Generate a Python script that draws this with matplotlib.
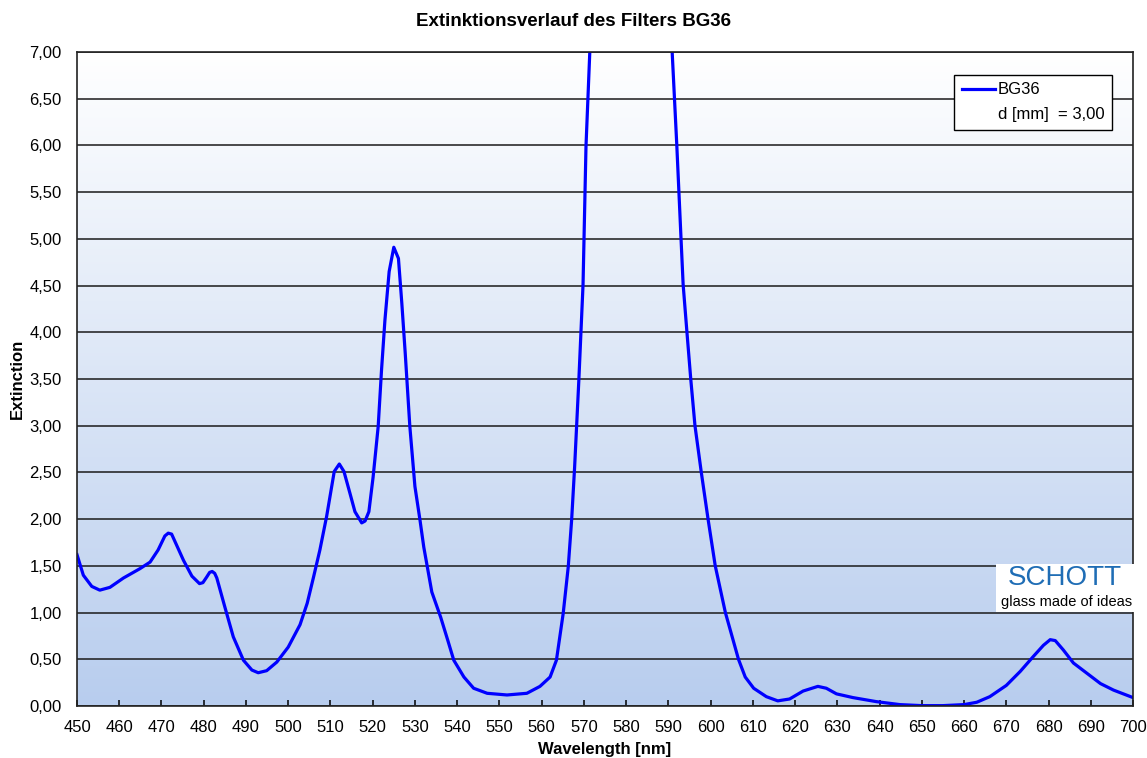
import numpy as np
import matplotlib
matplotlib.use("Agg")
import matplotlib.pyplot as plt
from matplotlib.lines import Line2D
from matplotlib.patches import Rectangle
from matplotlib.ticker import FuncFormatter, MultipleLocator

plt.rcParams["font.family"] = ["Liberation Sans", "DejaVu Sans"]

# Extinction curve of BG36 (d = 3 mm)
wavelength = [450, 451.5, 453.5, 455.4, 457.8, 461, 464.9, 467.3, 469.2, 470.8,
              471.6, 472.4, 473.2, 475.2, 477.2, 479.0, 479.8, 480.7, 481.4, 482.0,
              482.6, 483.1, 485.0, 487.0, 489.4, 491.4, 492.9, 494.9, 497.3, 500.0,
              502.8, 504.5, 506, 507.5, 509.1, 510.9, 512.1, 513.2, 514.6, 515.8,
              517.4, 518.2, 519.1, 520.1, 521.3, 522.1, 522.9, 523.9, 525.0, 526.1,
              526.9, 527.7, 528.8, 530.0, 531.2, 532.1, 534.0, 536.1, 537.8, 539.2,
              541.6, 543.9, 547.1, 551.8, 556.5, 559.6, 562, 563.5, 565.1, 566.3,
              567.1, 567.8, 568.8, 569.8, 570.5, 571.4, 572.5, 576, 581, 586,
              589.8, 590.9, 592.0, 593.0, 593.5, 594.4, 595.3, 596.3, 597.8, 599.4,
              601.1, 603.5, 605.3, 606.6, 608.2, 610.2, 613.2, 615.9, 618.7, 621.9,
              625.4, 627.4, 629.8, 633.7, 639.2, 644.8, 650, 655, 660, 663,
              666.1, 670, 673.3, 676.4, 678.8, 680.4, 681.6, 683.5, 685.9, 689.1,
              692.3, 695.4, 700]
extinction = [1.62, 1.40, 1.28, 1.24, 1.27, 1.37, 1.47, 1.54, 1.67, 1.82,
              1.85, 1.84, 1.76, 1.56, 1.39, 1.31, 1.32, 1.38, 1.43, 1.44,
              1.42, 1.37, 1.06, 0.74, 0.49, 0.385, 0.356, 0.378, 0.47, 0.63,
              0.87, 1.10, 1.38, 1.67, 2.03, 2.51, 2.59, 2.51, 2.28, 2.08,
              1.96, 1.98, 2.08, 2.45, 2.99, 3.60, 4.13, 4.65, 4.91, 4.79,
              4.31, 3.78, 2.99, 2.35, 1.99, 1.70, 1.22, 0.95, 0.70, 0.49,
              0.31, 0.19, 0.136, 0.118, 0.136, 0.21, 0.31, 0.49, 0.99, 1.49,
              1.99, 2.55, 3.48, 4.51, 5.99, 7.0, 8.0, 8.8, 9.0, 8.8,
              8.0, 7.0, 6.0, 5.0, 4.51, 4.0, 3.5, 3.0, 2.50, 2.0,
              1.50, 1.0, 0.71, 0.50, 0.31, 0.19, 0.10, 0.055, 0.075, 0.16,
              0.21, 0.19, 0.13, 0.09, 0.047, 0.015, 0.004, 0.004, 0.015, 0.04,
              0.10, 0.22, 0.37, 0.53, 0.65, 0.71, 0.70, 0.60, 0.46, 0.35,
              0.24, 0.17, 0.09]

x_min, x_max = 450, 700
y_min, y_max = 0, 7

fig = plt.figure(figsize=(11.47, 7.58), dpi=100)
ax = fig.add_axes([77 / 1147, 1 - 706 / 758, 1056 / 1147, 654 / 758])

# vertical gradient background: white at top, light blue at bottom
top = np.array([1.0, 1.0, 1.0])
bottom = np.array([184, 205, 238]) / 255
t = np.linspace(0, 1, 256)[:, None]
grad = (top * (1 - t) + bottom * t)[:, None, :]
ax.imshow(grad, extent=[x_min, x_max, y_min, y_max], aspect="auto",
          origin="upper", zorder=0, interpolation="bilinear")

ax.set_xlim(x_min, x_max)
ax.set_ylim(y_min, y_max)
ax.xaxis.set_major_locator(MultipleLocator(10))
ax.yaxis.set_major_locator(MultipleLocator(0.5))
ax.yaxis.set_major_formatter(FuncFormatter(lambda v, p: f"{v:.2f}".replace(".", ",")))
ax.grid(axis="y", color="#1a1a1a", linewidth=1.1, zorder=1)
ax.set_axisbelow(False)

ax.plot(wavelength, extinction, color="#0000ff", linewidth=2.3, zorder=3,
        label="BG36")

ax.tick_params(axis="x", direction="in", length=4, width=1.1, pad=10,
               labelsize=12, colors="black")
ax.tick_params(axis="y", length=0, pad=11, labelsize=12)
for s in ax.spines.values():
    s.set_linewidth(1.2)
    s.set_color("#222222")
    s.set_zorder(4)

ax.set_xlabel("Wavelength [nm]", fontsize=12, fontweight="bold", labelpad=5)
ax.set_ylabel("Extinction", fontsize=12, fontweight="bold")
ax.yaxis.set_label_coords(-52 / 1056, 0.5)
fig.text(0.5, 1 - 22 / 758, "Extinktionsverlauf des Filters BG36",
         ha="center", va="center", fontsize=13.5, fontweight="bold")

handles = [Line2D([], [], color="#0000ff", linewidth=2.3),
           Line2D([], [], color="none")]
leg = ax.legend(handles, ["BG36", "d [mm]  = 3,00"], loc="upper right",
                bbox_to_anchor=(0.980, 0.965), fontsize=12, frameon=True,
                fancybox=False, framealpha=1, edgecolor="black",
                handlelength=2.0, handletextpad=0.15, borderpad=0.45,
                labelspacing=0.6, borderaxespad=0)
leg.get_frame().set_linewidth(1.0)
leg.set_zorder(5)

# SCHOTT logo box
fig.add_artist(Rectangle((996 / 1147, 1 - 612 / 758), 140 / 1147, 48 / 758,
                         transform=fig.transFigure, facecolor="white",
                         edgecolor="none", zorder=6))
fig.text(1065 / 1147, 1 - 578 / 758, "SCHOTT", ha="center", va="center",
         fontsize=20, color="#1f6db5", zorder=7)
fig.text(1067 / 1147, 1 - 602 / 758, "glass made of ideas", ha="center",
         va="center", fontsize=10.5, color="black", zorder=7)

fig.savefig("out.png", dpi=100)
